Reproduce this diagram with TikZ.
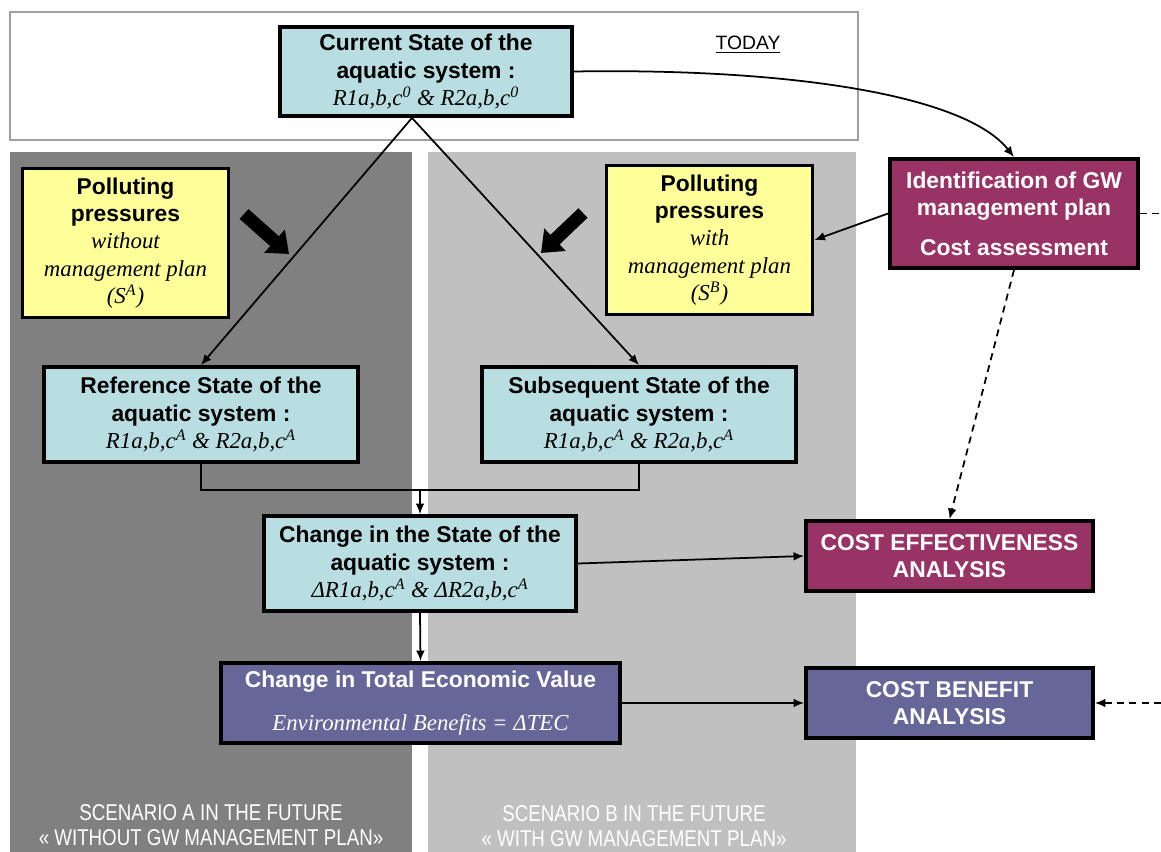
\documentclass[tikz,border=0pt]{standalone}
\usepackage{fontspec}
\setmainfont{Liberation Sans}
\newfontfamily\itserif{Liberation Serif}
\newfontfamily\narrowsans[FakeStretch=0.82]{Liberation Sans}
\usepackage{tikz}
\usetikzlibrary{arrows.meta,calc}

\definecolor{statecyan}{HTML}{B8DEE2}
\definecolor{pressyellow}{HTML}{FFFF99}
\definecolor{planwine}{HTML}{993366}
\definecolor{valueblue}{HTML}{666699}
\definecolor{scenAgray}{HTML}{808080}
\definecolor{scenBgray}{HTML}{C0C0C0}
\definecolor{todayframe}{HTML}{A0A0A0}

\newcommand{\rit}[1]{{\itserif\mdseries\itshape #1}}

\tikzset{
	box/.style={draw, line width=2.2pt, align=center, inner sep=0pt},
	statebox/.style={box, fill=statecyan, minimum width=6.28cm, minimum height=1.9cm},
	pressbox/.style={box, fill=pressyellow, minimum width=4.12cm, minimum height=2.98cm},
	winebox/.style={box, fill=planwine, text=white},
	bluebox/.style={box, fill=valueblue, text=white},
	conn/.style={line width=1pt, -{Latex[length=6pt,width=5pt]}},
	plain/.style={line width=1pt},
	dashconn/.style={line width=1pt, dash pattern=on 4pt off 3pt},
	push/.style={line width=7.5pt, -{Triangle[length=11pt,width=17pt]}},
	scen/.style={text=white, align=center, font=\narrowsans\fontsize{13}{14.2}\selectfont}
}

\begin{document}
\begin{tikzpicture}[x=0.02cm,y=-0.02cm,font=\fontsize{13}{15.5}\selectfont\bfseries]
	\useasboundingbox (0,0) rectangle (1161,852);
	%background
	\fill[white] (0,0) rectangle (1161,852);
	\draw[todayframe, line width=0.6pt] (10,12) rectangle (858,140);
	\fill[scenAgray] (10,152) rectangle (412,852);
	\fill[scenBgray] (428,152) rectangle (856,852);
	\node[font=\fontsize{11}{13}\selectfont\mdseries] (today) at (748,45) {\underline{TODAY}};
	%states
	\node[statebox, minimum width=5.84cm, minimum height=1.78cm] (cur) at (426,71.5)
		{Current State of the\\aquatic system :\\\rit{R1a,b,c\textsuperscript{0} \& R2a,b,c\textsuperscript{0}}};
	\node[statebox] (ref) at (201,414.5)
		{Reference State of the\\aquatic system :\\\rit{R1a,b,c\textsuperscript{A} \& R2a,b,c\textsuperscript{A}}};
	\node[statebox] (sub) at (639,414.5)
		{Subsequent State of the\\aquatic system :\\\rit{R1a,b,c\textsuperscript{A} \& R2a,b,c\textsuperscript{A}}};
	\node[statebox, minimum width=6.24cm] (chg) at (420,563.5)
		{Change in the State of the\\aquatic system :\\\rit{ΔR1a,b,c\textsuperscript{A} \& ΔR2a,b,c\textsuperscript{A}}};
	\node[bluebox, minimum width=7.98cm, minimum height=1.6cm] (tev) at (420.5,703)
		{Change in Total Economic Value\\[9pt]\rit{Environmental Benefits = ΔTEC}};
	%pressures
	\node[pressbox] (pola) at (125.5,243)
		{Polluting\\pressures\\\rit{without}\\\rit{management plan}\\\rit{(S\textsuperscript{A})}};
	\node[pressbox] (polb) at (709.5,240)
		{Polluting\\pressures\\\rit{with}\\\rit{management plan}\\\rit{(S\textsuperscript{B})}};
	%plan and analyses
	\node[winebox, minimum width=4.96cm, minimum height=2.18cm] (ident) at (1014,213.5)
		{Identification of GW\\management plan\\[7pt]Cost assessment};
	\node[winebox, minimum width=5.74cm, minimum height=1.4cm] (cea) at (949.5,556)
		{COST EFFECTIVENESS\\ANALYSIS};
	\node[bluebox, minimum width=5.74cm, minimum height=1.4cm] (cba) at (949.5,703)
		{COST BENEFIT\\ANALYSIS};
	%scenario labels
	\node[scen] (scenA) at (211,825) {SCENARIO A IN THE FUTURE\\« WITHOUT GW MANAGEMENT PLAN»};
	\node[scen] (scenB) at (634,826) {SCENARIO B IN THE FUTURE\\« WITH GW MANAGEMENT PLAN»};
	%connectors
	\coordinate (split) at ($(cur.south)+(-14,0)$);
	\draw[conn] (split) -- (ref.north);
	\draw[conn] (split) -- (sub.north);
	\draw[conn] (cur.east) .. controls (790,68) and (965,95) .. (ident.north);
	\draw[conn] (ident.west) -- (polb.east);
	\coordinate (join) at (420,490);
	\draw[plain] (ref.south) |- (join) -| (sub.south);
	\draw[conn] (join) -- (chg.north);
	\draw[conn] (chg.south) -- (tev.north);
	\draw[conn] (chg.east) -- (cea.west);
	\draw[conn] (tev.east) -- (cba.west);
	%dashed links
	\coordinate (edgeA) at (1161,213.5);
	\coordinate (edgeB) at (1161,703);
	\draw[dashconn] (ident.east) -- (edgeA);
	\draw[dashconn, -{Latex[length=6pt,width=5pt]}] (ident.south) -- (cea.north);
	\draw[dashconn, -{Latex[length=6pt,width=5pt]}] (edgeB) -- (cba.east);
	%fat arrows
	\coordinate (pushA0) at (244,214);
	\coordinate (pushA1) at (289,254);
	\coordinate (pushB0) at (583,213);
	\coordinate (pushB1) at (541,253);
	\draw[push] (pushA0) -- (pushA1);
	\draw[push] (pushB0) -- (pushB1);
\end{tikzpicture}
\end{document}
